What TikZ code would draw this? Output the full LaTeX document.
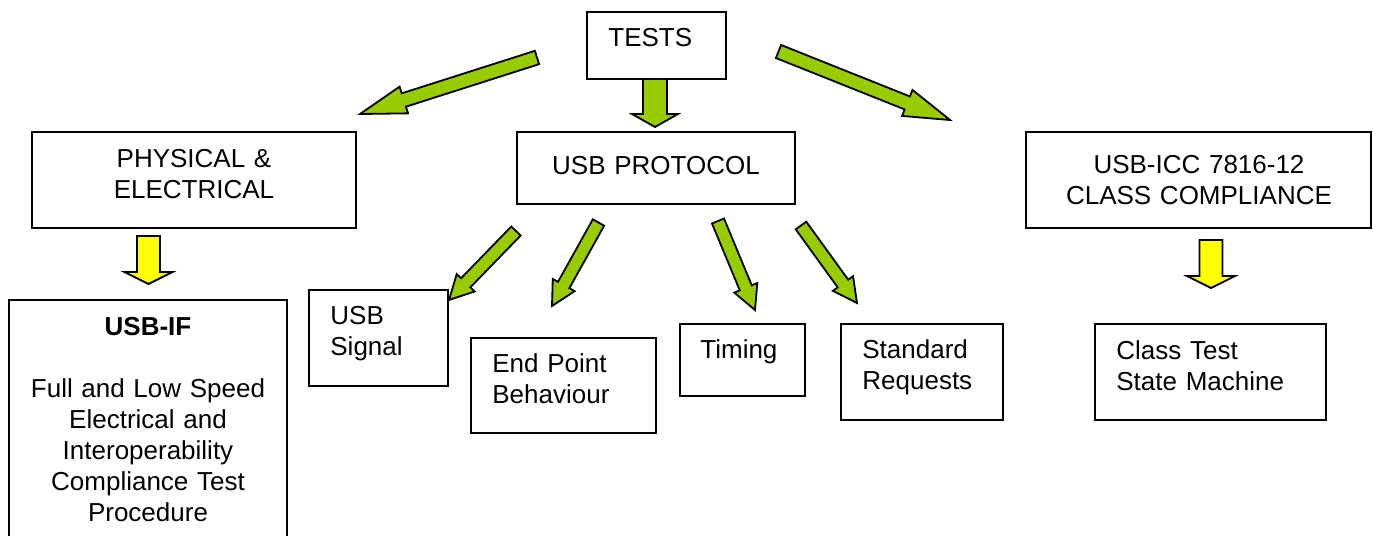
\documentclass[tikz,border=0pt]{standalone}
\usepackage{fontspec}
\setmainfont{Liberation Sans}
\usetikzlibrary{calc,fit}
\definecolor{agreen}{HTML}{99CC00}
\definecolor{ayellow}{HTML}{FFFF00}
\tikzset{
  box/.style={draw=black, line width=0.75pt, inner sep=0pt},
  ltxt/.style={inner sep=0pt, anchor=base west, align=left, text width=#1,
    font=\fontsize{13}{15.5}\selectfont},
  ctxt/.style={inner sep=0pt, anchor=base, align=center, text width=#1,
    font=\fontsize{13}{15.5}\selectfont},
  garrow/.style={draw=black, line width=0.9pt, fill=agreen, line join=miter},
  yarrow/.style={draw=black, line width=0.9pt, fill=ayellow, line join=miter},
}
\newcommand{\blockarrow}[6]{%
  \coordinate (hb) at ($(#3)!#6!(#2)$);
  \draw[#1] ($(#2)!#4!90:(#3)$) -- ($(hb)!#4!90:(#3)$) -- ($(hb)!#5!90:(#3)$)
    -- (#3) -- ($(hb)!#5!-90:(#3)$) -- ($(hb)!#4!-90:(#3)$)
    -- ($(#2)!#4!-90:(#3)$) -- cycle;}
\begin{document}
\begin{tikzpicture}[x=0.5pt, y=-0.5pt]
\useasboundingbox (0,0) rectangle (1373,536);
\begin{scope}
\clip (0,0) rectangle (1373,536);
% boxes
\node[box, fit={(587,12) (726,79)}] (tests) {};
\node[box, fit={(32,132) (356,228)}] (phys) {};
\node[box, fit={(517,132) (795,204)}] (proto) {};
\node[box, fit={(1026,132) (1371,228)}] (icc) {};
\node[box, fit={(9,300) (287,560)}] (usbif) {};
\node[box, fit={(309,290) (448,386)}] (signal) {};
\node[box, fit={(471,338) (656,433)}] (endpt) {};
\node[box, fit={(680,324) (805,396)}] (timing) {};
\node[box, fit={(841,324) (1003,420)}] (stdreq) {};
\node[box, fit={(1095,324) (1326,420)}] (cls) {};
% texts
\node[ltxt=60pt] (tests-t) at (608,46) {TESTS};
\node[ctxt=150pt] (phys-t) at (194,167) {PHYSICAL \&\\ELECTRICAL};
\node[ctxt=130pt] (proto-t) at (656,174) {USB PROTOCOL};
\node[ctxt=170pt] (icc-t) at (1199,173) {USB-ICC 7816-12\\CLASS COMPLIANCE};
\node[ctxt=135pt] (usbif-t) at (148,335) {\textbf{USB-IF}\\[15.5pt]Full and Low Speed\\Electrical and\\Interoperability\\Compliance Test\\Procedure};
\node[ltxt=60pt] (signal-t) at (330,324) {USB\\Signal};
\node[ltxt=80pt] (endpt-t) at (492,372) {End Point\\Behaviour};
\node[ltxt=55pt] (timing-t) at (700,358) {Timing};
\node[ltxt=70pt] (stdreq-t) at (862,358) {Standard\\Requests};
\node[ltxt=100pt] (cls-t) at (1116,359) {Class Test\\State Machine};
% arrow end points
\coordinate (a1t) at (537,57.5);   \coordinate (a1h) at (360,114);
\coordinate (a2t) at (655,79);     \coordinate (a2h) at (655,127);
\coordinate (a3t) at (778.5,51.5); \coordinate (a3h) at (950,120);
\coordinate (y1t) at (148.5,236);  \coordinate (y1h) at (148.5,284);
\coordinate (y2t) at (1211,240);   \coordinate (y2h) at (1211,288);
\coordinate (b1t) at (516,231);    \coordinate (b1h) at (449,300);
\coordinate (b2t) at (598.5,222.5);\coordinate (b2h) at (552,306);
\coordinate (b3t) at (718,221);    \coordinate (b3h) at (755,310);
\coordinate (b4t) at (801,225.5);  \coordinate (b4h) at (857,303);
% arrows
\blockarrow{garrow}{a1t}{a1h}{3.5pt}{7pt}{23pt}
\blockarrow{garrow}{a2t}{a2h}{6pt}{11.5pt}{6.5pt}
\blockarrow{garrow}{a3t}{a3h}{3.5pt}{7pt}{23pt}
\blockarrow{yarrow}{y1t}{y1h}{5.75pt}{12pt}{6pt}
\blockarrow{yarrow}{y2t}{y2h}{5.75pt}{12pt}{6pt}
\blockarrow{garrow}{b1t}{b1h}{3.25pt}{6.25pt}{12pt}
\blockarrow{garrow}{b2t}{b2h}{3.25pt}{6.25pt}{12pt}
\blockarrow{garrow}{b3t}{b3h}{3.25pt}{6.25pt}{12pt}
\blockarrow{garrow}{b4t}{b4h}{3.25pt}{6.25pt}{12pt}
\end{scope}
\end{tikzpicture}
\end{document}
